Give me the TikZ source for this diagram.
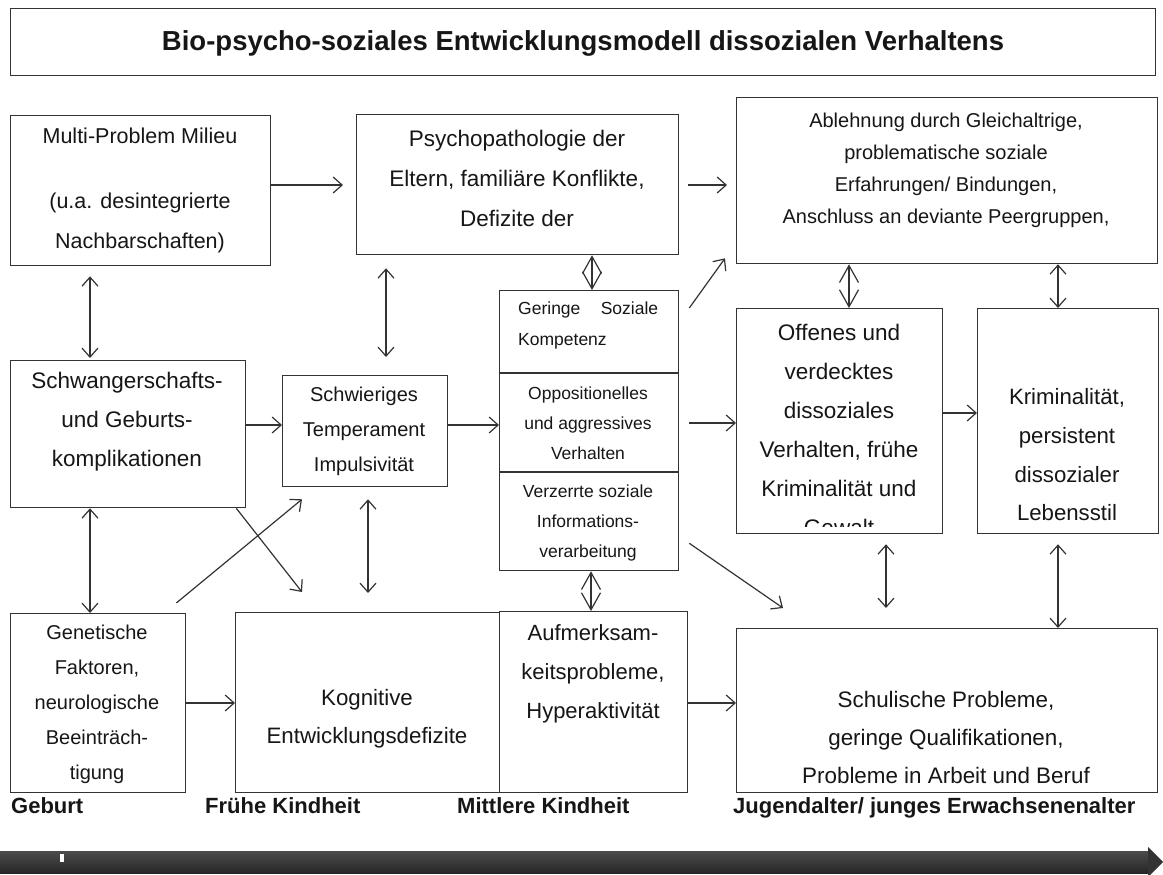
\documentclass[tikz,border=0pt]{standalone}
\usepackage{fontspec}
\setmainfont{Liberation Sans}
\usetikzlibrary{arrows.meta,calc}
\definecolor{linec}{HTML}{333333}
\definecolor{txt}{HTML}{161616}
\newcommand\myfs[2]{\fontsize{#1pt}{#2pt}\selectfont}
\newcommand\mkbox[5]{\node[box, minimum width={#4-#2}, minimum height={#5-#3}] (#1) at (#2,#3) {};}
\begin{document}
\begin{tikzpicture}[x=1pt,y=-1pt,
  box/.style={draw=linec, line width=1.3pt, inner sep=0pt, anchor=north west},
  lbl/.style={text=txt, align=center, inner sep=0pt},
  conn/.style={draw=linec, line width=1.2pt},
  arr/.style={conn, -{Straight Barb[length=9pt,width=16pt]}},
  darr/.style={conn, {Straight Barb[length=9pt,width=16pt]}-{Straight Barb[length=9pt,width=16pt]}},
  diam/.style={conn, {Straight Barb[length=17pt,width=19pt]}-{Straight Barb[length=17pt,width=19pt]}},
  tl/.style={text=txt, anchor=base west, inner sep=0pt, font=\bfseries\myfs{22}{26}}
]
\useasboundingbox (0,0) rectangle (1163,875);
\fill[white] (0,0) rectangle (1163,875);

% boxes
\mkbox{title}{10}{8}{1155}{75}
\mkbox{multi}{10}{115}{270}{265}
\mkbox{psych}{356}{114}{678}{254}
\mkbox{topright}{736}{97}{1157}{263}
\mkbox{geringe}{499}{290}{678}{570}
\mkbox{schwanger}{10}{360}{245}{507}
\mkbox{schwieriges}{282}{375}{447}{486}
\mkbox{offenes}{736}{308}{942}{533}
\mkbox{krim}{977}{308}{1158}{533}
\mkbox{genetische}{10}{613}{185}{792}
\mkbox{kognitive}{235}{612}{499}{792}
\mkbox{aufmerksam}{499}{611}{687}{792}
\mkbox{schulische}{736}{628}{1157}{792}

% dividers in the middle column
\draw[conn, line width=1.3pt] (geringe.west |- 0,373) -- (geringe.east |- 0,373);
\draw[conn, line width=1.3pt] (geringe.west |- 0,472) -- (geringe.east |- 0,472);

% texts
\node[lbl, font=\bfseries\myfs{27.5}{33}] (ttitle) at (583,43) {Bio-psycho-soziales Entwicklungsmodell dissozialen Verhaltens};
\node[lbl, font=\myfs{21.5}{40}] (tmulti) at (140,190) {Multi-Problem Milieu\\[25pt](u.a. desintegrierte\\Nachbarschaften)};
\node[lbl, font=\myfs{22.5}{40}] (tpsych) at (517,178) {Psychopathologie der\\Eltern, familiäre Konflikte,\\Defizite der};
\node[lbl, font=\myfs{20}{32}] (ttopright) at (946,170) {Ablehnung durch Gleichaltrige,\\problematische soziale\\Erfahrungen/ Bindungen,\\Anschluss an deviante Peergruppen,};
\node[lbl, align=left, anchor=west, font=\myfs{17.5}{31}] (tgeringe1) at (518,325) {\makebox[140pt][s]{Geringe\hfill Soziale}\\Kompetenz};
\node[lbl, font=\myfs{17.5}{30}] (tgeringe2) at (588,423) {Oppositionelles\\und aggressives\\Verhalten};
\node[lbl, font=\myfs{17.5}{30}] (tgeringe3) at (588,523) {Verzerrte soziale\\Informations-\\verarbeitung};
\node[lbl, font=\myfs{22.5}{39}] (tschwanger) at (127,422) {Schwangerschafts-\\und Geburts-\\komplikationen};
\node[lbl, font=\myfs{20}{35}] (tschwieriges) at (364,431) {Schwieriges\\Temperament\\Impulsivität};
\begin{scope}
\clip (offenes.north west) rectangle ($(offenes.south east)+(0,-8)$);
\node[lbl, font=\myfs{22.5}{39}] (toffenes) at (839,430) {Offenes und\\verdecktes\\dissoziales\\Verhalten, frühe\\Kriminalität und\\Gewalt};
\end{scope}
\node[lbl, font=\myfs{22.2}{38.7}] (tkrim) at (1067,455) {Kriminalität,\\persistent\\dissozialer\\Lebensstil};
\node[lbl, font=\myfs{20}{35}] (tgenetische) at (97,704) {Genetische\\Faktoren,\\neurologische\\Beeinträch-\\tigung};
\node[lbl, font=\myfs{22.3}{38}] (tkognitive) at (367,719) {Kognitive\\Entwicklungsdefizite};
\node[lbl, font=\myfs{22}{39}] (taufmerksam) at (593,674) {Aufmerksam-\\keitsprobleme,\\Hyperaktivität};
\node[lbl, font=\myfs{22.4}{38}] (tschulische) at (946,737) {Schulische Probleme,\\geringe Qualifikationen,\\Probleme in Arbeit und Beruf};

% timeline
\node[tl] (lgeburt) at (11,813) {Geburt};
\node[tl] (lfrueh) at (205,813) {Frühe Kindheit};
\node[tl] (lmittel) at (457,813) {Mittlere Kindheit};
\node[tl] (ljugend) at (733,813) {Jugendalter/ junges Erwachsenenalter};
\shade[top color=gray!60!black, bottom color=black!85] (0,851) rectangle (1150,873);
\fill[black!80] (1148,847) -- (1163,862) -- (1148,877) -- cycle;
\fill[white] (60,854) rectangle (64,862);

% connectors
\draw[arr, shorten >=13pt] (multi.east |- 0,185) -- (psych.west |- 0,185);
\draw[arr, shorten <=9pt, shorten >=9pt] (psych.east |- 0,185) -- (topright.west |- 0,185);
\draw[darr, shorten <=10pt, shorten >=2pt] (multi.south -| 90,0) -- (schwanger.north -| 90,0);
\draw[darr, shorten <=13pt, shorten >=18pt] (psych.south -| 386,0) -- (schwieriges.north -| 386,0);
\draw[diam] (psych.south -| 592,0) -- (geringe.north -| 592,0);
\draw[arr] (schwanger.east |- 0,425) -- (schwieriges.west |- 0,425);
\draw[arr] (schwieriges.east |- 0,425) -- (geringe.west |- 0,425);
\draw[arr] ($(geringe.north east)+(10,18)$) -- ($(topright.south west)+(-11,-6)$);
\draw[arr, shorten <=10pt] (geringe.east |- 0,423) -- (offenes.west |- 0,423);
\draw[arr] ($(geringe.south east)+(10,-28)$) -- ($(schulische.north west)+(47,-20)$);
\draw[diam] (topright.south -| 849,0) -- (offenes.north -| 849,0);
\draw[darr] (topright.south -| 1058,0) -- (krim.north -| 1058,0);
\draw[arr] (offenes.east |- 0,413) -- (krim.west |- 0,413);
\draw[darr, shorten <=10pt, shorten >=20pt] (offenes.south -| 886,0) -- (schulische.north -| 886,0);
\draw[darr, shorten <=10pt] (krim.south -| 1058,0) -- (schulische.north -| 1058,0);
\draw[darr] (schwanger.south -| 90,0) -- (genetische.north -| 90,0);
\draw[arr] ($(schwanger.south east)+(-10,0)$) -- ($(kognitive.north west)+(67,-20)$);
\draw[arr] ($(genetische.north east)+(-10,-10)$) -- ($(schwieriges.south west)+(20,12)$);
\draw[darr, shorten <=12pt, shorten >=19pt] (schwieriges.south -| 368,0) -- (kognitive.north -| 368,0);
\draw[diam] (geringe.south -| 591,0) -- (aufmerksam.north -| 591,0);
\draw[arr] (genetische.east |- 0,703) -- (kognitive.west |- 0,703);
\draw[arr] (aufmerksam.east |- 0,703) -- (schulische.west |- 0,703);
\end{tikzpicture}
\end{document}
